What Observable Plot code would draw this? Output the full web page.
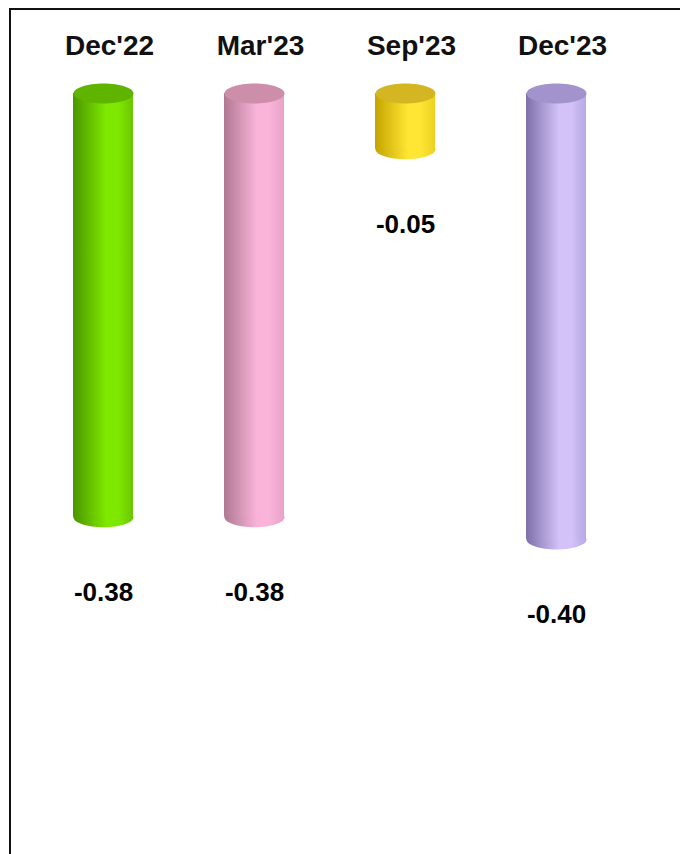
<!DOCTYPE html>
<html>
<head>
<meta charset="utf-8">
<script src="https://cdn.jsdelivr.net/npm/d3@7"></script>
<script src="https://cdn.jsdelivr.net/npm/@observablehq/plot@0.6"></script>
<style>
  html, body { margin: 0; padding: 0; background: #fff; }
  #wrap { position: relative; width: 680px; height: 854px; overflow: hidden; }
  #border { position: absolute; left: 9px; top: 8px; right: -10px; bottom: -10px;
            border-top: 2px solid #111; border-left: 2px solid #111; }
  #chart { position: absolute; left: 0; top: 0; }
</style>
</head>
<body>
<div id="wrap"><div id="border"></div><div id="chart"></div></div>
<script>
const periods = ["Dec'22", "Mar'23", "Sep'23", "Dec'23"];
const values = [-0.38, -0.38, -0.05, -0.40];
const labels = ["-0.38", "-0.38", "-0.05", "-0.40"];
// [dark edge, bright, right edge, top cap]
const palette = [
  ["#4a9600", "#7ee800", "#6cc600", "#5fb400"],
  ["#b07892", "#fab4da", "#e8a2c6", "#cc8ea8"],
  ["#c4a400", "#ffe634", "#ecd020", "#d4b622"],
  ["#7e70a8", "#d2c2f8", "#b8a8e4", "#a293cc"]
];

const data = periods.map((p, i) => ({period: p, value: values[i], label: labels[i], i}));

const ellipse = {
  draw(context, size) {
    const rx = Math.sqrt(size / Math.PI), ry = rx / 3;
    const k = 0.5523;
    context.moveTo(-rx, 0);
    context.bezierCurveTo(-rx, -ry * k, -rx * k, -ry, 0, -ry);
    context.bezierCurveTo(rx * k, -ry, rx, -ry * k, rx, 0);
    context.bezierCurveTo(rx, ry * k, rx * k, ry, 0, ry);
    context.bezierCurveTo(-rx * k, ry, -rx, ry * k, -rx, 0);
    context.closePath();
  }
};

const W = 680, H = 854;
const chart = Plot.plot({
  width: W,
  height: H,
  marginTop: 93,
  marginBottom: 92,
  marginLeft: 26,
  marginRight: 47,
  x: {domain: periods, paddingInner: 0.604, paddingOuter: 0.302, axis: null},
  y: {domain: [-0.6, 0], axis: null},
  color: {type: "identity"},
  style: {background: "transparent"},
  marks: [
    Plot.dot(data, {x: "period", y: "value", r: 30, symbol: ellipse, fill: d => `url(#cyl${d.i})`, stroke: "none"}),
    Plot.barY(data, {x: "period", y1: 0, y2: "value", fill: d => `url(#cyl${d.i})`, inset: 0}),
    Plot.dot(data, {x: "period", y: () => 0, r: 30, symbol: ellipse, fill: d => `url(#top${d.i})`, stroke: "none"}),
    Plot.axisX({anchor: "top", tickSize: 0, tickPadding: 0, dy: -39, dx: 6, fontSize: 28, fontWeight: "bold", label: null, fill: "#111"}),
    Plot.text(data, {x: "period", y: "value", text: "label", dy: 75, fontSize: 26, fontWeight: "bold", fill: "#000"})
  ]
});
chart.style.fontFamily = "'Liberation Sans', Arial, sans-serif";

const svg = d3.select(chart.tagName === "svg" ? chart : chart.querySelector("svg"));
const defs = svg.insert("defs", ":first-child");
palette.forEach((c, i) => {
  const g = defs.append("linearGradient").attr("id", "cyl" + i).attr("x1", 0).attr("x2", 1).attr("y1", 0).attr("y2", 0);
  g.append("stop").attr("offset", "0%").attr("stop-color", c[0]);
  g.append("stop").attr("offset", "55%").attr("stop-color", c[1]);
  g.append("stop").attr("offset", "75%").attr("stop-color", c[1]);
  g.append("stop").attr("offset", "100%").attr("stop-color", c[2]);
  const t = defs.append("linearGradient").attr("id", "top" + i).attr("x1", 0).attr("x2", 1).attr("y1", 0).attr("y2", 0);
  t.append("stop").attr("offset", "0%").attr("stop-color", c[3]);
  t.append("stop").attr("offset", "100%").attr("stop-color", c[3]);
});

document.getElementById("chart").appendChild(chart);
</script>
</body>
</html>
